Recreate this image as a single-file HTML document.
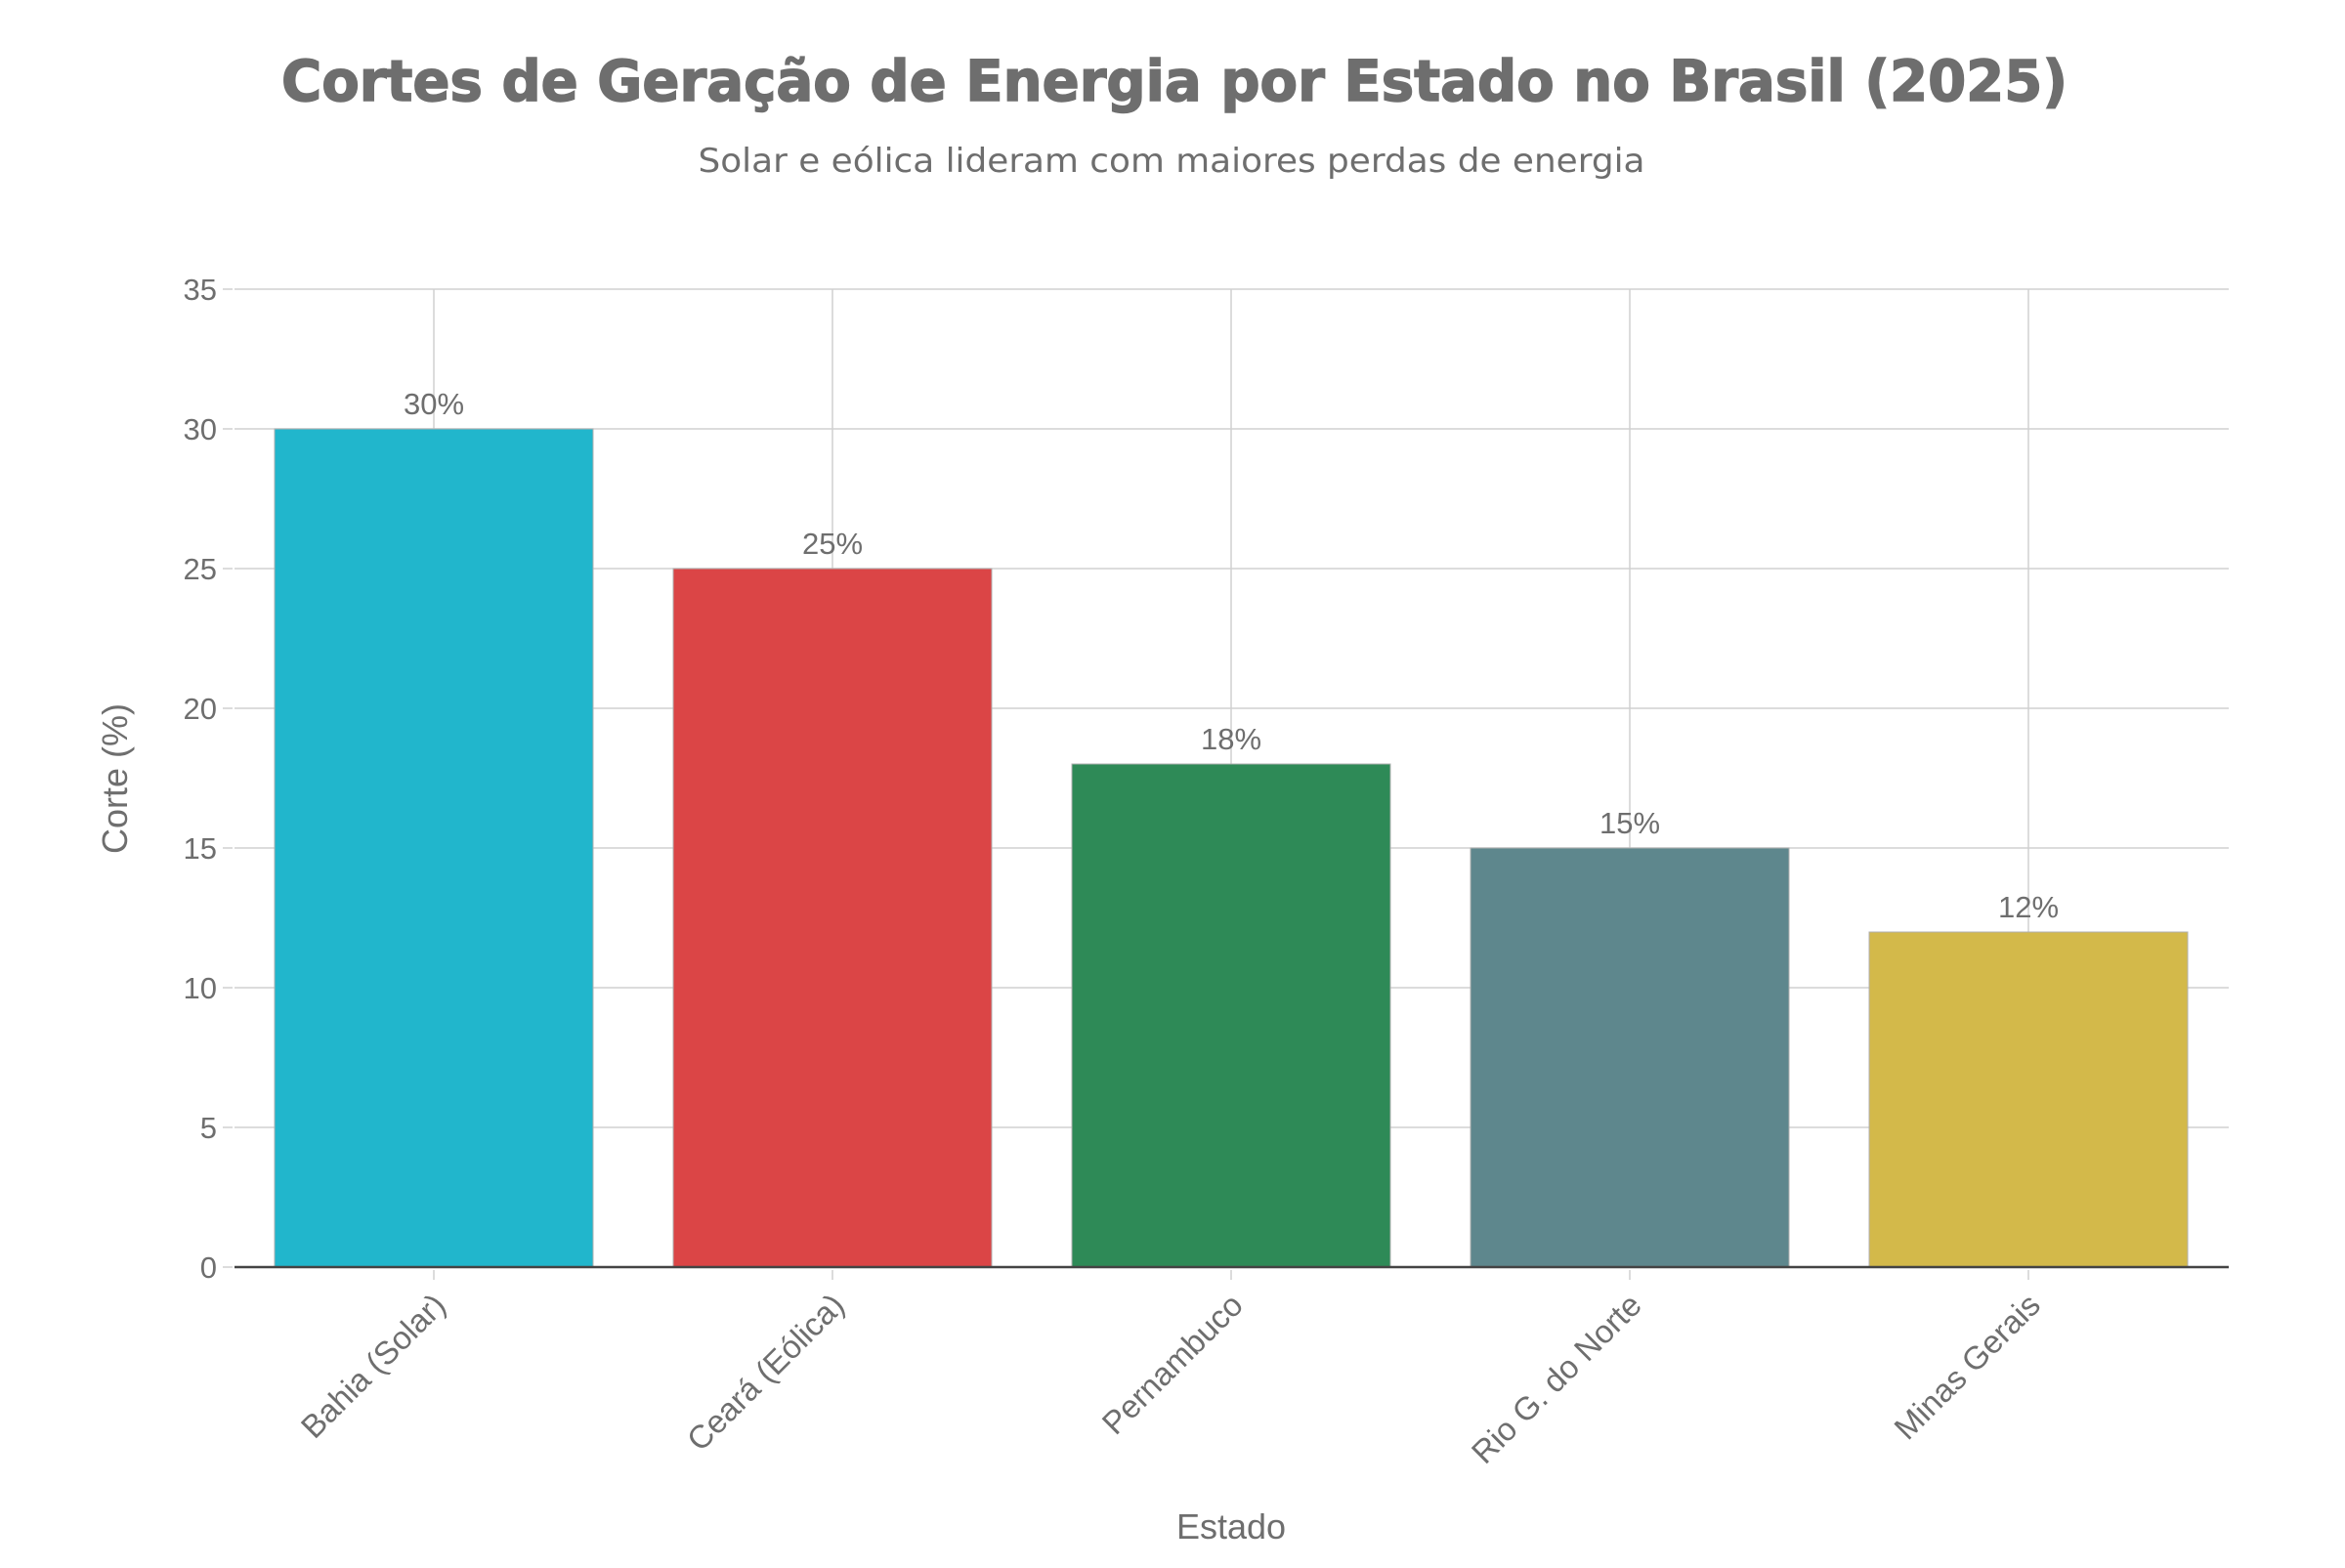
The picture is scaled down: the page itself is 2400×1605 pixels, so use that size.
<!DOCTYPE html>
<html><head><meta charset="utf-8"><style>html,body{margin:0;padding:0;background:#fff}</style></head>
<body>
<svg width="2400" height="1600" xmlns="http://www.w3.org/2000/svg" font-family="Liberation Sans, sans-serif" fill="#6e6e6e">
<rect width="2400" height="1600" fill="#fff"/>
<text x="1202" y="103" text-anchor="middle" font-size="58" font-weight="bold" font-family="DejaVu Sans, sans-serif" stroke="#6e6e6e" stroke-width="1.5" textLength="1828" lengthAdjust="spacingAndGlyphs">Cortes de Geração de Energia por Estado no Brasil (2025)</text>
<text x="1199" y="176" text-anchor="middle" font-size="34" font-family="DejaVu Sans, sans-serif" textLength="969" lengthAdjust="spacingAndGlyphs">Solar e eólica lideram com maiores perdas de energia</text>
<g stroke="#d0d0d0" stroke-width="1.5">
<line x1="240" x2="2281" y1="296" y2="296"/>
<line x1="240" x2="2281" y1="439" y2="439"/>
<line x1="240" x2="2281" y1="582" y2="582"/>
<line x1="240" x2="2281" y1="725" y2="725"/>
<line x1="240" x2="2281" y1="868" y2="868"/>
<line x1="240" x2="2281" y1="1011" y2="1011"/>
<line x1="240" x2="2281" y1="1154" y2="1154"/>
<line x1="228" x2="238" y1="296" y2="296"/><line x1="228" x2="238" y1="439" y2="439"/><line x1="228" x2="238" y1="582" y2="582"/><line x1="228" x2="238" y1="725" y2="725"/><line x1="228" x2="238" y1="868" y2="868"/><line x1="228" x2="238" y1="1011" y2="1011"/><line x1="228" x2="238" y1="1154" y2="1154"/><line x1="228" x2="238" y1="1297" y2="1297"/>
<line x1="444" x2="444" y1="296" y2="1297"/><line x1="852" x2="852" y1="296" y2="1297"/><line x1="1260" x2="1260" y1="296" y2="1297"/><line x1="1668" x2="1668" y1="296" y2="1297"/><line x1="2076" x2="2076" y1="296" y2="1297"/>
<line x1="444" x2="444" y1="1300" y2="1310"/><line x1="852" x2="852" y1="1300" y2="1310"/><line x1="1260" x2="1260" y1="1300" y2="1310"/><line x1="1668" x2="1668" y1="1300" y2="1310"/><line x1="2076" x2="2076" y1="1300" y2="1310"/>
</g>
<g stroke="#b0b0b0" stroke-width="1">
<rect x="281" y="439" width="326" height="858" fill="#21B6CC"/>
<rect x="689" y="582" width="326" height="715" fill="#DB4546"/>
<rect x="1097" y="782" width="326" height="515" fill="#2E8A57"/>
<rect x="1505" y="868" width="326" height="429" fill="#5E878D"/>
<rect x="1913" y="954" width="326" height="343" fill="#D3B94A"/>
</g>
<line x1="240" x2="2281" y1="1297" y2="1297" stroke="#444" stroke-width="2.5"/>
<g font-size="31" text-anchor="end">
<text x="222" y="307">35</text><text x="222" y="450">30</text><text x="222" y="593">25</text><text x="222" y="736">20</text><text x="222" y="879">15</text><text x="222" y="1022">10</text><text x="222" y="1165">5</text><text x="222" y="1308">0</text>
</g>
<g font-size="31" text-anchor="middle">
<text x="444" y="424">30%</text><text x="852" y="567">25%</text><text x="1260" y="767">18%</text><text x="1668" y="853">15%</text><text x="2076" y="939">12%</text>
</g>
<g font-size="33" text-anchor="end">
<text transform="translate(458,1338) rotate(-45)">Bahia (Solar)</text>
<text transform="translate(866,1338) rotate(-45)">Ceará (Eólica)</text>
<text transform="translate(1274,1338) rotate(-45)">Pernambuco</text>
<text transform="translate(1682,1338) rotate(-45)">Rio G. do Norte</text>
<text transform="translate(2090,1338) rotate(-45)">Minas Gerais</text>
</g>
<text x="1260" y="1575" text-anchor="middle" font-size="36">Estado</text>
<text transform="translate(130,797) rotate(-90)" text-anchor="middle" font-size="36">Corte (%)</text>
</svg>
</body></html>
